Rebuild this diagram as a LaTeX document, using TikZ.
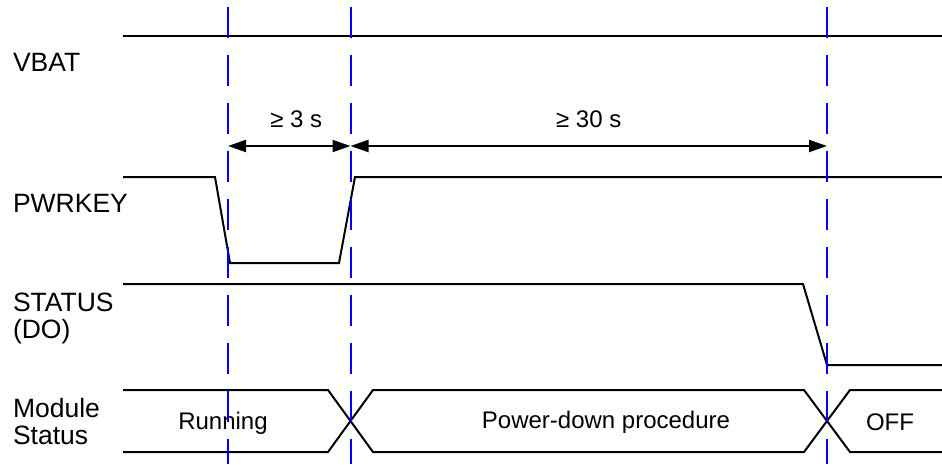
\documentclass[tikz,border=0pt]{standalone}
\usepackage{fontspec}
\setmainfont{Liberation Sans}
\usetikzlibrary{arrows.meta}

\begin{document}
\begin{tikzpicture}[x=1pt,y=-1pt,line width=2pt,
    guide/.style={blue,dash pattern=on 31pt off 17pt},
    dim/.style={{Triangle[length=18pt,width=12pt]}-{Triangle[length=18pt,width=12pt]}},
    lbl/.style={anchor=west,align=left,inner sep=0pt,font=\fontsize{26.5}{27}\selectfont},
    txt/.style={inner sep=0pt,font=\fontsize{24}{26}\selectfont}]
    \useasboundingbox (0,0) rectangle (942,464);
    % signal names
    \node[lbl] (vbat) at (12,62) {VBAT};
    \node[lbl] (pwrkey) at (12,203) {PWRKEY};
    \node[lbl] (status) at (12,318) {STATUS\\(DO)};
    \node[lbl] (module) at (12,422) {Module\\Status};
    % waveforms
    \draw (123,36) -- (942,36);
    \draw (123,177) -- (215,177) -- (230,263) -- (339,263) -- (355,177) -- (942,177);
    \draw (123,284) -- (803,284) -- (827,365) -- (942,365);
    \draw (123,390) -- (328,390) -- (373,452) -- (804,452) -- (850,390) -- (942,390);
    \draw (123,452) -- (328,452) -- (373,390) -- (804,390) -- (850,452) -- (942,452);
    \node[txt] (run) at (223,423) {Running};
    \node[txt] (pdown) at (606,422) {Power-down procedure};
    \node[txt] (off) at (890,422) {OFF};
    % timing
    \coordinate (a) at (228,146);
    \coordinate (b) at (350.5,146);
    \coordinate (c) at (827,146);
    \draw[dim] (a) -- (b) node[txt,midway,above=17pt,xshift=7pt] (t3) {≥ 3 s};
    \draw[dim] (b) -- (c) node[txt,midway,above=17pt] (t30) {≥ 30 s};
    \foreach \x in {228,350.5,827}
      \draw[guide] (\x,7) -- (\x,464);
\end{tikzpicture}
\end{document}
